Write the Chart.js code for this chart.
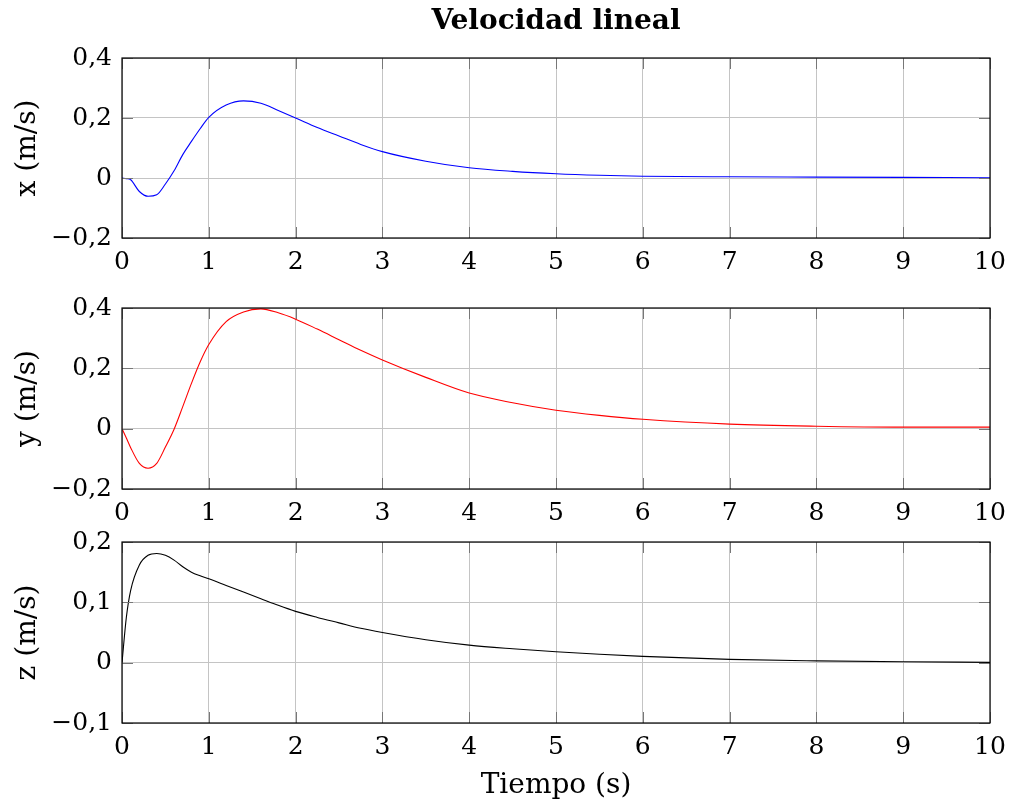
<!DOCTYPE html>
<html>
<head>
<meta charset="utf-8">
<script src="https://cdn.jsdelivr.net/npm/chart.js@4.4.1/dist/chart.umd.min.js"></script>
<style>
  body { margin: 0; background: #fff; }
  #wrap { position: relative; width: 1009px; height: 809px; }
  #wrap canvas { position: absolute; left: 0; top: 0; }
</style>
</head>
<body>
<div id="wrap">
  <canvas id="chartX" width="1009" height="809"></canvas>
  <canvas id="chartY" width="1009" height="809"></canvas>
  <canvas id="chartZ" width="1009" height="809"></canvas>
</div>
<script>
// Velocidad lineal
const tiempo = [0, 0.05, 0.1, 0.2, 0.3, 0.4, 0.5, 0.6, 0.7, 0.8, 0.9, 1.0, 1.2, 1.4, 1.6, 1.8, 2.0,
  2.25, 2.5, 2.75, 3, 3.5, 4, 4.5, 5, 5.5, 6, 7, 8, 9, 10];
const velX = [0, -0.002, -0.006, -0.045, -0.061, -0.056, -0.02, 0.024, 0.078, 0.122, 0.164, 0.202, 0.243, 0.257, 0.249, 0.225, 0.2,
  0.168, 0.14, 0.112, 0.088, 0.056, 0.034, 0.022, 0.014, 0.009, 0.006, 0.004, 0.003, 0.002, 0.001];
const velY = [0, -0.031, -0.063, -0.115, -0.131, -0.115, -0.061, -0.002, 0.073, 0.15, 0.221, 0.279, 0.355, 0.387, 0.397, 0.384, 0.363,
  0.33, 0.295, 0.26, 0.228, 0.17, 0.118, 0.086, 0.061, 0.044, 0.031, 0.015, 0.008, 0.005, 0.005];
const velZ = [0, 0.075, 0.12, 0.162, 0.178, 0.181, 0.178, 0.17, 0.159, 0.15, 0.144, 0.139, 0.128, 0.117, 0.106, 0.095, 0.085,
  0.075, 0.066, 0.057, 0.05, 0.038, 0.029, 0.023, 0.018, 0.014, 0.0105, 0.0055, 0.003, 0.0015, 0.0005];

const tituloGeneral = 'Velocidad lineal';
const tituloTiempo = 'Tiempo (s)';
const ejesY = ['x (m/s)', 'y (m/s)', 'z (m/s)'];
const rangosY = [[-0.2, 0.4, 0.2], [-0.2, 0.4, 0.2], [-0.1, 0.2, 0.1]];

const FONT = "'DejaVu Serif', serif";
const PLOT_LEFT = 122, PLOT_RIGHT = 990;

// format like pgfplots: comma decimal, real minus sign
function fmtTick(v) {
  if (Math.abs(v) < 1e-9) return '0';
  const s = Math.abs(v).toFixed(1).replace('.', ',');
  return v < 0 ? '\u2212' + s : s;
}

// frame + small inner tick marks
const framePlugin = {
  id: 'frame',
  afterDraw: function(chart) {
    const ctx = chart.ctx;
    const a = chart.chartArea;
    const xs = chart.scales.x, ys = chart.scales.y;
    ctx.save();
    ctx.strokeStyle = '#777';
    ctx.lineWidth = 1;
    ctx.beginPath();
    xs.ticks.forEach(t => {
      const px = Math.round(xs.getPixelForValue(t.value)) + 0.5;
      ctx.moveTo(px, a.bottom); ctx.lineTo(px, a.bottom - 11);
      ctx.moveTo(px, a.top); ctx.lineTo(px, a.top + 11);
    });
    ys.ticks.forEach(t => {
      const py = Math.round(ys.getPixelForValue(t.value)) + 0.5;
      ctx.moveTo(a.left, py); ctx.lineTo(a.left + 11, py);
      ctx.moveTo(a.right, py); ctx.lineTo(a.right - 11, py);
    });
    ctx.stroke();
    ctx.strokeStyle = '#000';
    ctx.lineWidth = 1.2;
    ctx.strokeRect(a.left, a.top, a.right - a.left, a.bottom - a.top);
    ctx.restore();
  }
};

// title centred over the plot box (not the whole canvas)
const plotTitlePlugin = {
  id: 'plotTitle',
  afterDraw: function(chart, args, opts) {
    if (!opts.text) return;
    const ctx = chart.ctx;
    const a = chart.chartArea;
    ctx.save();
    ctx.fillStyle = '#000';
    ctx.font = 'bold 28px ' + FONT;
    ctx.textAlign = 'center';
    ctx.textBaseline = 'middle';
    ctx.fillText(opts.text, (a.left + a.right) / 2, a.top - 36);
    ctx.restore();
  }
};

function makeChart(id, data, color, idx, top, bottom, withTitle, withXTitle) {
  const pts = tiempo.map((t, i) => ({ x: t, y: data[i] }));
  const r = rangosY[idx];
  const xAxisH = withXTitle ? 809 - bottom : 50;
  return new Chart(document.getElementById(id), {
    type: 'line',
    data: {
      datasets: [{
        data: pts,
        borderColor: color,
        borderWidth: 1.1,
        pointRadius: 0,
        cubicInterpolationMode: 'monotone',
        fill: false
      }]
    },
    options: {
      responsive: false,
      animation: false,
      events: [],
      layout: { padding: { top: top, bottom: 809 - bottom - xAxisH, left: 0, right: 1009 - PLOT_RIGHT } },
      plugins: {
        legend: { display: false },
        tooltip: { enabled: false },
        title: { display: false },
        plotTitle: { text: withTitle ? tituloGeneral : '' }
      },
      scales: {
        x: {
          type: 'linear',
          min: 0, max: 10,
          afterFit: function(s) { s.height = xAxisH; s.paddingLeft = 0; s.paddingRight = 0; },
          ticks: { stepSize: 1, color: '#000', font: { family: FONT, size: 25 }, padding: 9, maxRotation: 0 },
          grid: { color: '#c4c4c4', lineWidth: 1, drawTicks: false },
          border: { display: false },
          title: {
            display: withXTitle,
            text: tituloTiempo,
            color: '#000',
            font: { family: FONT, size: 28 },
            padding: { top: 0, bottom: 6 }
          }
        },
        y: {
          type: 'linear',
          min: r[0], max: r[1],
          afterFit: function(s) { s.width = PLOT_LEFT; s.paddingTop = 0; s.paddingBottom = 0; },
          ticks: { stepSize: r[2], color: '#000', font: { family: FONT, size: 25 }, padding: 10, callback: fmtTick },
          grid: { color: '#c4c4c4', lineWidth: 1, drawTicks: false },
          border: { display: false },
          title: {
            display: true,
            text: ejesY[idx],
            color: '#000',
            font: { family: FONT, size: 28 },
            padding: { top: 11, bottom: 0 }
          }
        }
      }
    },
    plugins: [framePlugin, plotTitlePlugin]
  });
}

makeChart('chartX', velX, '#0000ff', 0, 58, 238, true, false);
makeChart('chartY', velY, '#ff0000', 1, 308, 489, false, false);
makeChart('chartZ', velZ, '#000000', 2, 542, 723, false, true);
</script>
</body>
</html>
